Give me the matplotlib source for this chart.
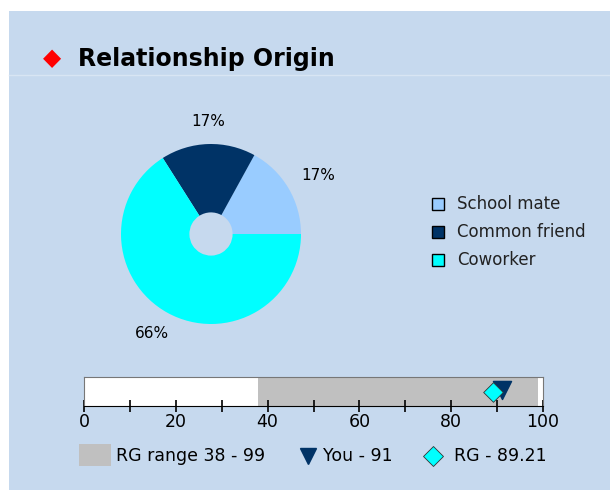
import matplotlib.pyplot as plt
from matplotlib.patches import Rectangle
from matplotlib.lines import Line2D

# data
categories = ["School mate", "Common friend", "Coworker"]
shares = [17, 17, 66]
colors = ["#99CCFF", "#003366", "#00FFFF"]
rg_range = [38, 99]
you_score = 91
rg_score = 89.21
bar_ticks = [0, 20, 40, 60, 80, 100]

bg = "#C6D9EE"
W, H = 610, 490

fig = plt.figure(figsize=(6.1, 4.9), dpi=100)
fig.patch.set_facecolor("white")

# panel background
fig.patches.append(Rectangle((9 / W, 0), 1, (H - 11) / H, transform=fig.transFigure,
                             facecolor=bg, edgecolor="none", zorder=-10))
fig.lines.append(Line2D([9 / W, 1], [(H - 75) / H] * 2, transform=fig.transFigure,
                        color="#D8E5F3", lw=1, zorder=-9))

# title
fig.text(52 / W, (H - 58) / H, "\u25C6", color="red", fontsize=17, ha="center", va="center")
fig.text(78 / W, (H - 59) / H, "Relationship Origin", fontsize=17, fontweight="bold",
         ha="left", va="center", family="DejaVu Sans")

# donut
ax = fig.add_axes([121 / W, (H - 324) / H, 180 / W, 180 / H])
ax.set_facecolor("none")
wedges, _ = ax.pie(shares, colors=colors, startangle=0, counterclock=True,
                   radius=1, wedgeprops=dict(width=0.76, linewidth=0))
ax.set_xlim(-1, 1)
ax.set_ylim(-1, 1)
ax.axis("off")

label_pos = [(318, 176), (208, 121), (152, 333)]
for (x, y), v in zip(label_pos, shares):
    fig.text(x / W, (H - y) / H, f"{v}%", fontsize=11, ha="center", va="center")

# legend
for i, (lab, c) in enumerate(zip(categories, colors)):
    y = 204 + i * 28
    fig.patches.append(Rectangle((432 / W, (H - y - 6) / H), 12 / W, 12 / H,
                                 transform=fig.transFigure, facecolor=c,
                                 edgecolor="black", lw=1))
    fig.text(457 / W, (H - y) / H, lab, fontsize=12, ha="left", va="center", color="#222222")

# range bar
bx = fig.add_axes([84 / W, (H - 406) / H, 459 / W, 29 / H])
bx.set_facecolor("white")
bx.set_xlim(0, 100)
bx.set_ylim(0, 1)
bx.barh(0.5, rg_range[1] - rg_range[0], left=rg_range[0], height=1, color="#C0C0C0")
bx.scatter([you_score], [0.55], marker="v", s=170, color="#003366", zorder=3)
bx.scatter([rg_score], [0.5], marker="D", s=100, color="#00FFFF", edgecolor="#333333",
           lw=0.6, zorder=4)
for s in bx.spines.values():
    s.set_color("#777777")
bx.spines["bottom"].set_color("black")
bx.set_yticks([])
bx.set_xticks(bar_ticks)
bx.set_xticks(range(10, 100, 20), minor=True)
bx.tick_params(axis="x", which="both", direction="inout", length=8, width=1.2, labelsize=12.5)
bx.tick_params(axis="x", which="major", pad=1)

# bottom legend
ly = (H - 456) / H
fs = 12.5
fig.patches.append(Rectangle((79 / W, (H - 466) / H), 32 / W, 22 / H,
                             transform=fig.transFigure, facecolor="#C0C0C0", edgecolor="none"))
fig.text(116 / W, ly, f"RG range {rg_range[0]} - {rg_range[1]}", fontsize=fs, va="center")
fig.lines.append(Line2D([308 / W], [ly], transform=fig.transFigure, marker="v",
                        markersize=12, color="#003366", ls="none"))
fig.text(323 / W, ly, f"You - {you_score}", fontsize=fs, va="center")
fig.lines.append(Line2D([433 / W], [ly], transform=fig.transFigure, marker="D",
                        markersize=10, color="#00FFFF", markeredgecolor="#333333",
                        markeredgewidth=0.6, ls="none"))
fig.text(454 / W, ly, f"RG - {rg_score}", fontsize=fs, va="center")

fig.savefig("out.png", dpi=100, facecolor=fig.get_facecolor())
